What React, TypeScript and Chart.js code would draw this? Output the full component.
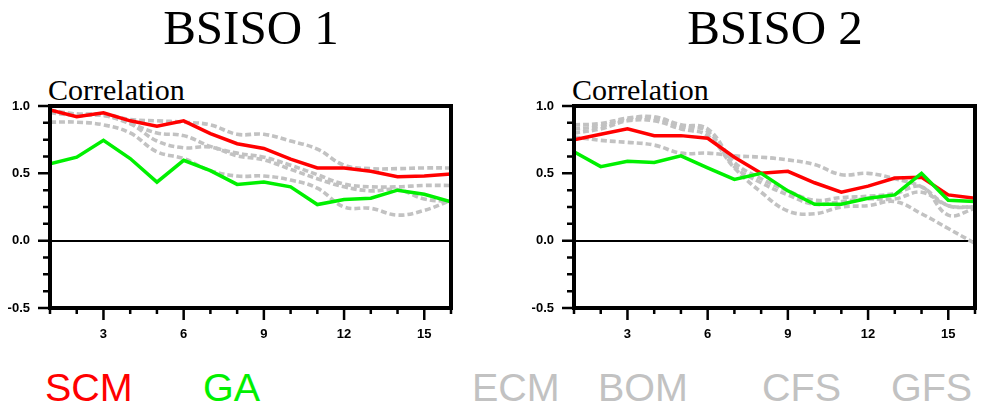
import React, { useEffect, useRef } from "react";
import { Chart, registerables } from "chart.js";

Chart.register(...registerables);

// ---- data ----
const leadDays = [1, 2, 3, 4, 5, 6, 7, 8, 9, 10, 11, 12, 13, 14, 15, 16];
const xTickLabels = ["3", "6", "9", "12", "15"];
const yTickLabels = ["-0.5", "0.0", "0.5", "1.0"];

const modelNames = ["ECM", "BOM", "CFS", "GFS"];

// BSISO 1
const scm1 = [0.97, 0.92, 0.95, 0.89, 0.85, 0.89, 0.795, 0.72, 0.685, 0.605, 0.54, 0.54, 0.515, 0.475, 0.48, 0.495];
const ga1 = [0.57, 0.62, 0.745, 0.61, 0.435, 0.597, 0.52, 0.418, 0.435, 0.4, 0.268, 0.305, 0.315, 0.375, 0.345, 0.288];
const ecm1 = [0.97, 0.94, 0.94, 0.9, 0.89, 0.88, 0.86, 0.79, 0.79, 0.74, 0.68, 0.56, 0.535, 0.535, 0.54, 0.54];
const bom1 = [0.88, 0.88, 0.86, 0.8, 0.66, 0.61, 0.52, 0.48, 0.48, 0.45, 0.39, 0.25, 0.24, 0.19, 0.225, 0.3];
const cfs1 = [0.95, 0.93, 0.93, 0.87, 0.8, 0.78, 0.7, 0.65, 0.62, 0.56, 0.49, 0.42, 0.4, 0.4, 0.41, 0.41];
const gfs1 = [0.96, 0.94, 0.93, 0.87, 0.74, 0.69, 0.695, 0.63, 0.6, 0.53, 0.46, 0.4, 0.37, 0.38, 0.31, 0.29];

// BSISO 2
const scm2 = [0.75, 0.79, 0.83, 0.78, 0.78, 0.76, 0.62, 0.5, 0.515, 0.43, 0.36, 0.405, 0.465, 0.47, 0.34, 0.315];
const ga2 = [0.66, 0.55, 0.59, 0.58, 0.63, 0.54, 0.455, 0.5, 0.37, 0.27, 0.27, 0.315, 0.34, 0.5, 0.3, 0.29];
const ecm2 = [0.77, 0.745, 0.73, 0.71, 0.65, 0.65, 0.63, 0.62, 0.6, 0.565, 0.49, 0.5, 0.46, 0.4, 0.26, 0.25];
const bom2 = [0.86, 0.87, 0.91, 0.92, 0.86, 0.83, 0.58, 0.46, 0.37, 0.3, 0.32, 0.33, 0.35, 0.4, 0.19, 0.24];
const cfs2 = [0.83, 0.85, 0.9, 0.91, 0.85, 0.81, 0.55, 0.43, 0.34, 0.27, 0.29, 0.31, 0.31, 0.36, 0.26, 0.25];
const gfs2 = [0.8, 0.83, 0.89, 0.89, 0.83, 0.78, 0.54, 0.36, 0.22, 0.2, 0.25, 0.26, 0.29, 0.2, 0.09, -0.02];

const RED = "#ff0000";
const GREEN = "#00f000";
const GRAY = "#c2c2c2";

const framePlugin = {
  id: "ncarFrame",
  afterDraw(chart: any) {
    const { ctx, chartArea: a, scales } = chart;
    const xs = scales.x;
    const ys = scales.y;
    ctx.save();
    ctx.strokeStyle = "#000";
    ctx.lineCap = "butt";
    ctx.lineWidth = 2.5;
    ctx.beginPath();
    for (let i = 0; i <= 12; i++) {
      const v = -0.5 + i * 0.125;
      const y = ys.getPixelForValue(v);
      const len = i % 4 === 0 ? 12 : 7;
      ctx.moveTo(a.left - len, y);
      ctx.lineTo(a.left, y);
    }
    for (const d of leadDays) {
      const x = xs.getPixelForValue(d);
      const len = d % 3 === 0 ? 12 : 6;
      ctx.moveTo(x, a.bottom);
      ctx.lineTo(x, a.bottom + len);
    }
    ctx.stroke();
    ctx.lineWidth = 4;
    ctx.strokeRect(a.left, a.top, a.right - a.left, a.bottom - a.top);
    ctx.restore();
  },
};

type PanelProps = {
  left: number;
  padRight: number;
  scm: number[];
  ga: number[];
  models: number[][];
};

const CW = 470;
const CH = 345;

function Panel({ left, padRight, scm, ga, models }: PanelProps) {
  const ref = useRef<HTMLCanvasElement | null>(null);
  useEffect(() => {
    if (!ref.current) return;
    const pts = (arr: number[]) => leadDays.map((d, i) => ({ x: d, y: arr[i] }));
    const datasets: any[] = [
      { label: "GA", data: pts(ga), borderColor: GREEN, borderWidth: 3.5, pointRadius: 0, tension: 0, order: 0 },
      { label: "SCM", data: pts(scm), borderColor: RED, borderWidth: 3.5, pointRadius: 0, tension: 0, order: 1 },
      ...models.map((m, i) => ({
        label: modelNames[i],
        data: pts(m),
        borderColor: GRAY,
        borderWidth: 3.6,
        borderDash: [6, 3],
        pointRadius: 0,
        tension: 0.4,
        order: 2,
      })),
    ];
    const chart = new Chart(ref.current, {
      type: "line",
      data: { datasets },
      plugins: [framePlugin],
      options: {
        responsive: false,
        animation: false,
        devicePixelRatio: 1,
        layout: { padding: { top: 106, right: padRight, left: 0, bottom: 0 } },
        plugins: { legend: { display: false }, tooltip: { enabled: false }, title: { display: false } },
        scales: {
          x: {
            type: "linear",
            min: 1,
            max: 16,
            grid: { display: false, drawTicks: false },
            border: { display: false },
            afterFit: (s: any) => {
              s.height = CH - 308;
            },
            ticks: {
              stepSize: 1,
              autoSkip: false,
              maxRotation: 0,
              padding: 19,
              color: "#000",
              font: { family: "'Liberation Sans', Arial, sans-serif", size: 13, weight: "bold" },
              callback: (v: any) => (xTickLabels.includes(String(v)) ? String(v) : ""),
            },
          },
          y: {
            type: "linear",
            min: -0.5,
            max: 1.0,
            grid: {
              drawTicks: false,
              color: (c: any) => (c.tick && c.tick.value === 0 ? "#000" : "rgba(0,0,0,0)"),
              lineWidth: 2,
            },
            border: { display: false },
            afterFit: (s: any) => {
              s.width = 50;
            },
            ticks: {
              stepSize: 0.5,
              padding: 20,
              color: "#000",
              font: { family: "'Liberation Sans', Arial, sans-serif", size: 13, weight: "bold" },
              callback: (v: any) => {
                const t = Number(v).toFixed(1);
                return yTickLabels.includes(t) ? t : "";
              },
            },
          },
        },
      } as any,
    });
    return () => chart.destroy();
  }, [left, padRight, scm, ga, models]);
  return (
    <canvas
      ref={ref}
      width={CW}
      height={CH}
      style={{ position: "absolute", left, top: 0, width: CW, height: CH }}
    />
  );
}

const serif = "'Liberation Serif', 'Times New Roman', serif";
const sans = "'Liberation Sans', Arial, sans-serif";

function Text({ x, y, w, align, size, font, color, children }: any) {
  return (
    <div
      style={{
        position: "absolute",
        left: x,
        top: y,
        width: w,
        textAlign: align,
        fontFamily: font,
        fontSize: size,
        lineHeight: `${size}px`,
        color,
        whiteSpace: "nowrap",
      }}
    >
      {children}
    </div>
  );
}

export default function App() {
  return (
    <div style={{ position: "absolute", left: 0, top: 0, width: 982, height: 413, background: "#fff", overflow: "hidden" }}>
      <Text x={101} y={3} w={300} align="center" size={49} font={serif} color="#000">BSISO 1</Text>
      <Text x={625} y={3} w={300} align="center" size={49} font={serif} color="#000">BSISO 2</Text>
      <Text x={48} y={75} w={200} align="left" size={30} font={serif} color="#000">Correlation</Text>
      <Text x={572} y={75} w={200} align="left" size={30} font={serif} color="#000">Correlation</Text>
      <Panel left={0} padRight={17} scm={scm1} ga={ga1} models={[ecm1, bom1, cfs1, gfs1]} />
      <Panel left={524} padRight={18} scm={scm2} ga={ga2} models={[ecm2, bom2, cfs2, gfs2]} />
      <Text x={45} y={368} w={120} align="left" size={39.5} font={sans} color={RED}>SCM</Text>
      <Text x={203} y={368} w={120} align="left" size={39.5} font={sans} color={GREEN}>GA</Text>
      <Text x={472} y={368} w={120} align="left" size={39.5} font={sans} color={GRAY}>{modelNames[0]}</Text>
      <Text x={598} y={368} w={120} align="left" size={39.5} font={sans} color={GRAY}>{modelNames[1]}</Text>
      <Text x={762} y={368} w={120} align="left" size={39.5} font={sans} color={GRAY}>{modelNames[2]}</Text>
      <Text x={891} y={368} w={120} align="left" size={39.5} font={sans} color={GRAY}>{modelNames[3]}</Text>
    </div>
  );
}
